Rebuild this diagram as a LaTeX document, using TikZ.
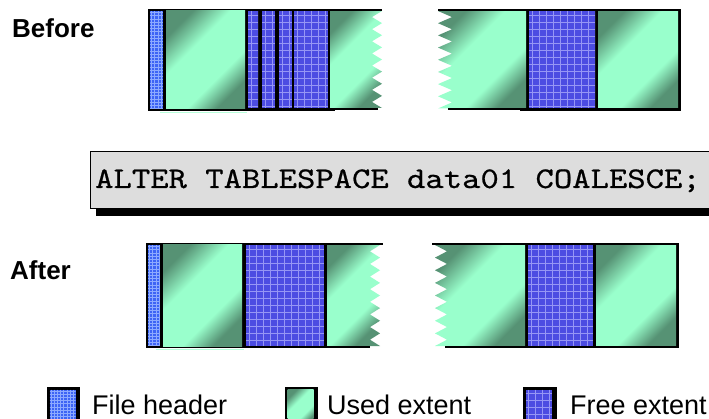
\documentclass[tikz,border=0pt]{standalone}
\usepackage{fontspec}
\usepackage{graphicx}
\setmainfont{Liberation Sans}
\newfontfamily\codefont[FakeBold=0.6]{lmmono10-regular.otf}
\definecolor{usedlight}{RGB}{153,255,204}
\definecolor{useddark}{RGB}{86,146,116}
\definecolor{freeblue}{RGB}{76,76,226}
\definecolor{freegrid}{RGB}{150,150,245}
\definecolor{hdrblue}{RGB}{60,100,245}
\definecolor{hdrdot}{RGB}{140,170,255}
\definecolor{sqlgray}{RGB}{221,221,221}
\pgfdeclareverticalshading{usedsh}{100bp}{color(0bp)=(useddark); color(26bp)=(useddark); color(38bp)=(usedlight); color(60bp)=(usedlight); color(75bp)=(useddark); color(100bp)=(useddark)}
\tikzset{
  usedshade/.style={shading=usedsh, shading angle=45},
  border/.style={line width=2pt, black},
  lbl/.style={font=\bfseries\fontsize{26}{30}\selectfont, inner sep=0pt, anchor=base west},
  legtext/.style={font=\fontsize{27}{30}\selectfont, inner sep=0pt, anchor=base west},
  codetext/.style={font=\codefont\fontsize{30}{34}\selectfont, inner sep=0pt, anchor=base west},
}
\newcommand{\freefill}[4]{%
  \fill[freeblue] (#1,#2) rectangle (#3,#4);
  \begin{scope}
    \clip (#1,#2) rectangle (#3,#4);
    \foreach \k in {0,...,15} {
      \draw[freegrid, line width=0.9pt] ({#1+3+7*\k},#2) -- ({#1+3+7*\k},#4);
      \draw[freegrid, line width=0.9pt] (#1,{#2+4+7*\k}) -- (#3,{#2+4+7*\k});
    }
  \end{scope}}
\newcommand{\hdrfill}[4]{%
  \fill[hdrblue] (#1,#2) rectangle (#3,#4);
  \begin{scope}
    \clip (#1,#2) rectangle (#3,#4);
    \foreach \k in {0,...,34} {
      \draw[hdrdot, line width=0.7pt] ({#1+1.5+3.2*\k},#2) -- ({#1+1.5+3.2*\k},#4);
      \draw[hdrdot, line width=0.7pt] (#1,{#2+1.5+3.2*\k}) -- (#3,{#2+1.5+3.2*\k});
    }
  \end{scope}}
\newcommand{\usedfill}[4]{\shade[usedshade] (#1,#2) rectangle (#3,#4);}
% x-start, ytop, valley x, tip x, ybottom
\newcommand{\usedjag}[5]{%
  \shade[usedshade] (#1,#2) -- (#4,#2)
    \foreach \k in {1,...,8} { -- (#3,{#2+(\k-0.5)*(#5-#2)/8}) -- (#4,{#2+\k*(#5-#2)/8}) }
    -- (#1,#5) -- cycle;}
\begin{document}
\begin{tikzpicture}[x=1pt,y=-1pt]
\useasboundingbox (0,0) rectangle (709,419);
\fill[white] (0,0) rectangle (709,419);

% labels
\node[lbl] (before) at (12,38) {Before};
\node[lbl] (after) at (10,280) {After};

% ---- Before, left strip
\fill[black] (148,9) rectangle (335,111);
\hdrfill{150}{11}{163}{108.5}
\usedfill{166}{11}{245}{108.5}
\freefill{248}{11}{258}{108.5}
\freefill{262}{11}{275}{108.5}
\freefill{279}{11}{292}{108.5}
\freefill{294}{11}{328}{108.5}
\usedjag{330}{11}{372}{382}{108}
\draw[border] (330,10) -- (382,10);
\draw[border] (330,109.5) -- (378,109.5);
\draw[usedlight!70, line width=1.5pt] (160,112.5) -- (247,112.5);

% ---- Before, right strip
\fill[black] (520,9) rectangle (681,111);
\usedjag{526}{11}{452}{438}{108.5}
\freefill{529}{11}{595}{108.5}
\usedfill{598}{11}{678}{108.5}
\draw[border] (438,10) -- (681,10);
\draw[border] (448,109.5) -- (681,109.5);

% ---- SQL statement
\fill[black] (96,158) rectangle (715,216);
\node (sqlbox) [draw=black, line width=1.2pt, fill=sqlgray, anchor=north west, minimum width=625pt, minimum height=57pt, inner sep=0pt] at (90,151) {};
\node[codetext] (sql) at (95,188) {\scalebox{1.165}[1]{ALTER TABLESPACE data01 COALESCE;}};

% ---- After, left strip
\fill[black] (146,243) rectangle (335,348);
\hdrfill{148}{245}{160}{346}
\usedfill{163}{245}{242}{346}
\freefill{246}{245}{324}{346}
\usedjag{327}{245}{370}{380}{346}
\draw[border] (327,244) -- (383,244);
\draw[border] (327,347) -- (370,347);
\draw[usedlight!70, line width=1.5pt] (156,349.5) -- (244,349.5);

% ---- After, right strip
\fill[black] (520,243) rectangle (679,348);
\usedjag{525}{245}{447}{435}{346}
\freefill{528}{245}{593}{346}
\usedfill{596}{245}{676}{346}
\draw[border] (432,244) -- (679,244);
\draw[border] (445,347) -- (679,347);

% ---- Legend
\fill[black] (47,387) rectangle (80,425);
\hdrfill{49.5}{389.5}{75.5}{425}
\node[legtext] (lh) at (92,414) {File header};
\fill[black] (285,387) rectangle (318,425);
\usedfill{287.5}{389.5}{313.5}{425}
\node[legtext] (lu) at (327,414) {Used extent};
\fill[black] (523,387) rectangle (557,425);
\freefill{525.5}{389.5}{552}{425}
\node[legtext] (lf) at (570,414) {Free extent};
\end{tikzpicture}
\end{document}
